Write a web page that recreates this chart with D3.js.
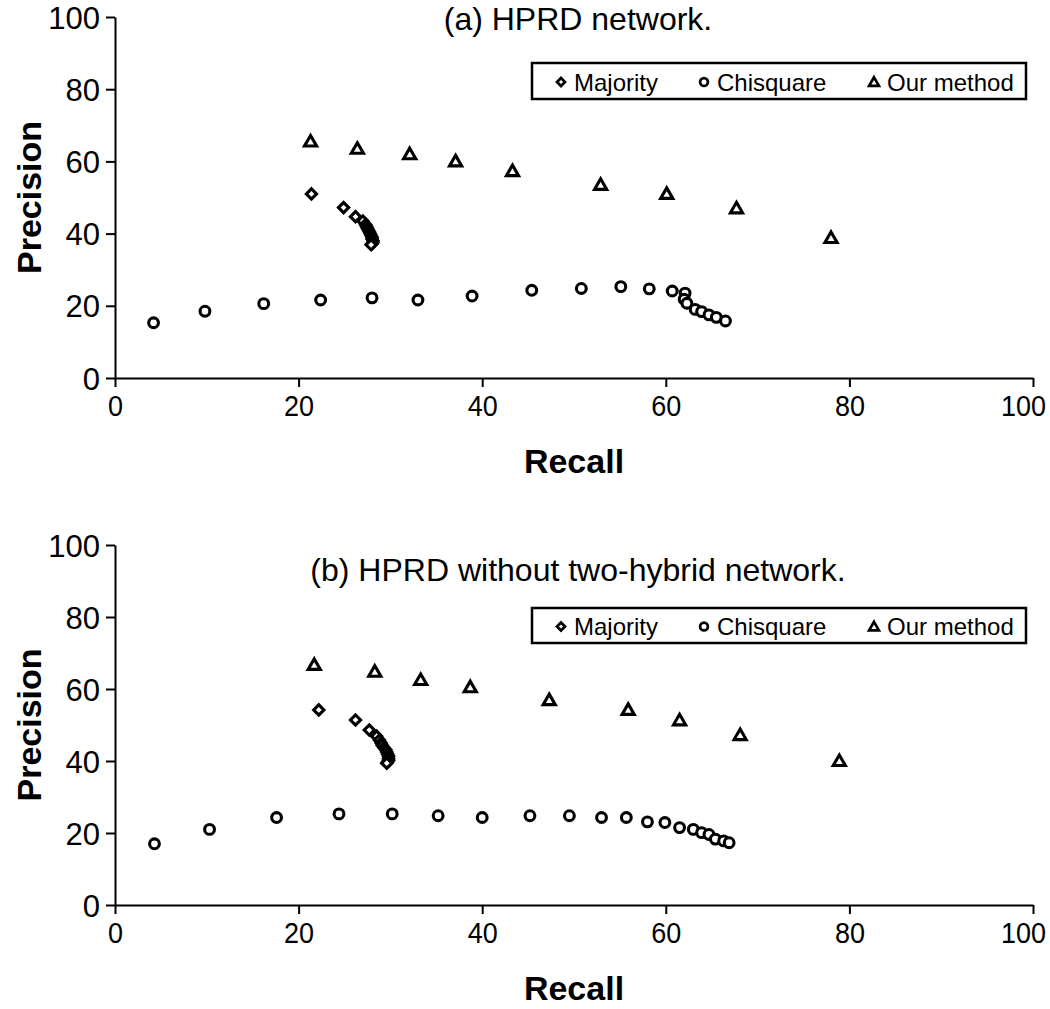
<!DOCTYPE html>
<html>
<head>
<meta charset="utf-8">
<script src="https://cdn.jsdelivr.net/npm/d3@7"></script>
<style>
  body { margin: 0; background: #fff; }
  text { font-family: "Liberation Sans", Arial, sans-serif; fill: #000; }
  .axis path, .axis line { stroke: #000; stroke-width: 2px; }
  .axis text { font-size: 31px; }
  .x.axis text { font-size: 29px; }
</style>
</head>
<body>
<div id="chart"></div>
<script>
// ---- data ----
var ticks = [0, 20, 40, 60, 80, 100];
var seriesNames = ["Majority", "Chisquare", "Our method"];
var titles = ["(a) HPRD network.", "(b) HPRD without two-hybrid network."];

// panel (a)
var majorityA = [
  [21.4, 51.0], [24.9, 47.2], [26.2, 44.7], [27.0, 43.5], [27.3, 42.5], [27.4, 42.0],
  [27.5, 41.5], [27.6, 41.0], [27.7, 40.5], [27.8, 40.0], [27.9, 39.5], [28.0, 39.0],
  [28.0, 38.5], [28.1, 38.0], [28.1, 37.6], [28.0, 37.2], [27.9, 36.9]
];
var chisquareA = [
  [4.2, 15.3], [9.8, 18.5], [16.2, 20.6], [22.4, 21.6], [28.0, 22.2], [33.0, 21.6],
  [38.9, 22.7], [45.4, 24.3], [50.8, 24.8], [55.1, 25.3], [58.2, 24.7], [60.7, 24.1],
  [62.1, 23.5], [62.0, 21.8], [62.3, 20.7], [63.2, 19.0], [63.9, 18.4], [64.7, 17.5],
  [65.5, 16.8], [66.5, 15.8]
];
var ourA = [
  [21.3, 65.5], [26.4, 63.5], [32.1, 62.0], [37.1, 60.0], [43.3, 57.3],
  [52.9, 53.5], [60.1, 51.0], [67.7, 47.0], [78.0, 38.8]
];

// panel (b)
var majorityB = [
  [22.2, 54.2], [26.2, 51.4], [27.7, 48.6], [28.5, 46.9], [28.8, 45.8], [29.0, 45.0],
  [29.1, 44.4], [29.3, 43.7], [29.5, 43.1], [29.6, 42.5], [29.7, 41.9], [29.8, 41.3],
  [29.8, 40.7], [29.8, 40.2], [29.7, 39.7], [29.6, 39.4]
];
var chisquareB = [
  [4.3, 17.0], [10.3, 21.0], [17.6, 24.3], [24.4, 25.3], [30.2, 25.3], [35.2, 24.8],
  [40.0, 24.3], [45.2, 24.8], [49.5, 24.8], [53.0, 24.3], [55.7, 24.3], [58.0, 23.1],
  [59.9, 22.9], [61.5, 21.5], [63.0, 21.0], [63.9, 20.1], [64.7, 19.6], [65.4, 18.3],
  [66.3, 17.8], [66.9, 17.3]
];
var ourB = [
  [21.7, 66.7], [28.3, 64.8], [33.3, 62.5], [38.7, 60.5], [47.3, 56.9],
  [55.9, 54.2], [61.5, 51.3], [68.1, 47.2], [78.9, 40.0]
];

var panels = [
  { title: titles[0], series: [majorityA, chisquareA, ourA], top: 17, bottom: 378, legendY: 63, legendH: 36, titleY: 30 },
  { title: titles[1], series: [majorityB, chisquareB, ourB], top: 545, bottom: 905, legendY: 608, legendH: 35, titleY: 581 }
];

var fullwidth = 1050, fullheight = 1009;
var left = 115, right = 1033;

var svg = d3.select("#chart").append("svg")
  .attr("width", fullwidth)
  .attr("height", fullheight);

function drawMarker(g, k, x, y, small) {
  var sw = small ? 2.7 : 3.1;
  if (k == 0) {
    g.append("path")
      .attr("d", d3.symbol().type(d3.symbolSquare).size(small ? 32 : 52)())
      .attr("transform", "translate(" + x + "," + y + ") rotate(45)")
      .attr("fill", "#fff").attr("stroke", "#000").attr("stroke-width", sw);
  } else if (k == 1) {
    g.append("circle")
      .attr("cx", x).attr("cy", y).attr("r", small ? 3.9 : 4.9)
      .attr("fill", "#fff").attr("stroke", "#000").attr("stroke-width", sw);
  } else {
    g.append("path")
      .attr("d", d3.symbol().type(d3.symbolTriangle).size(small ? 42 : 64)())
      .attr("transform", "translate(" + x + "," + (y + 1) + ")")
      .attr("fill", "#fff").attr("stroke", "#000").attr("stroke-width", sw)
      .attr("stroke-linejoin", "miter");
  }
}

panels.forEach(function(p) {
  var xScale = d3.scaleLinear().domain([0, 100]).range([left, right]);
  var yScale = d3.scaleLinear().domain([0, 100]).range([p.bottom, p.top]);

  var g = svg.append("g");

  // axes
  var xa = g.append("g")
    .attr("class", "x axis")
    .attr("transform", "translate(0," + p.bottom + ")")
    .call(d3.axisBottom(xScale).tickValues(ticks).tickSize(9).tickSizeOuter(0).tickPadding(8));

  // narrower digits like the original, and keep "100" inside the page
  xa.selectAll("text")
    .attr("textLength", function(d) { return String(d).length * 15; })
    .attr("lengthAdjust", "spacingAndGlyphs")
    .attr("dx", function(d) { return d == 100 ? -10 : 0; });

  g.append("g")
    .attr("class", "y axis")
    .attr("transform", "translate(" + left + ",0)")
    .call(d3.axisLeft(yScale).tickValues(ticks).tickSize(9).tickSizeOuter(0).tickPadding(6));

  g.selectAll(".y.axis text").attr("dy", "0.36em");

  // axis titles
  g.append("text")
    .attr("x", (left + right) / 2)
    .attr("y", p.bottom + 95)
    .attr("text-anchor", "middle")
    .style("font-size", "34px")
    .style("font-weight", "bold")
    .text("Recall");

  g.append("text")
    .attr("transform", "translate(41," + (p.top + p.bottom) / 2 + ") rotate(-90)")
    .attr("text-anchor", "middle")
    .style("font-size", "34px")
    .style("font-weight", "bold")
    .text("Precision");

  // title
  g.append("text")
    .attr("x", 578)
    .attr("y", p.titleY)
    .attr("text-anchor", "middle")
    .style("font-size", "32px")
    .text(p.title);

  // points
  p.series.forEach(function(s, k) {
    s.forEach(function(d) {
      drawMarker(g, k, xScale(d[0]), yScale(d[1]), false);
    });
  });

  // legend
  var lg = g.append("g");
  lg.append("rect")
    .attr("x", 532).attr("y", p.legendY)
    .attr("width", 494).attr("height", p.legendH)
    .attr("fill", "#fff").attr("stroke", "#000").attr("stroke-width", 2.5);

  var itemX = [561, 704, 874];
  var cy = p.legendY + p.legendH / 2 + 1;
  seriesNames.forEach(function(name, k) {
    drawMarker(lg, k, itemX[k], cy, true);
    lg.append("text")
      .attr("x", itemX[k] + 13)
      .attr("y", cy)
      .attr("dy", "0.36em")
      .style("font-size", "24px")
      .text(name);
  });
});
</script>
</body>
</html>
